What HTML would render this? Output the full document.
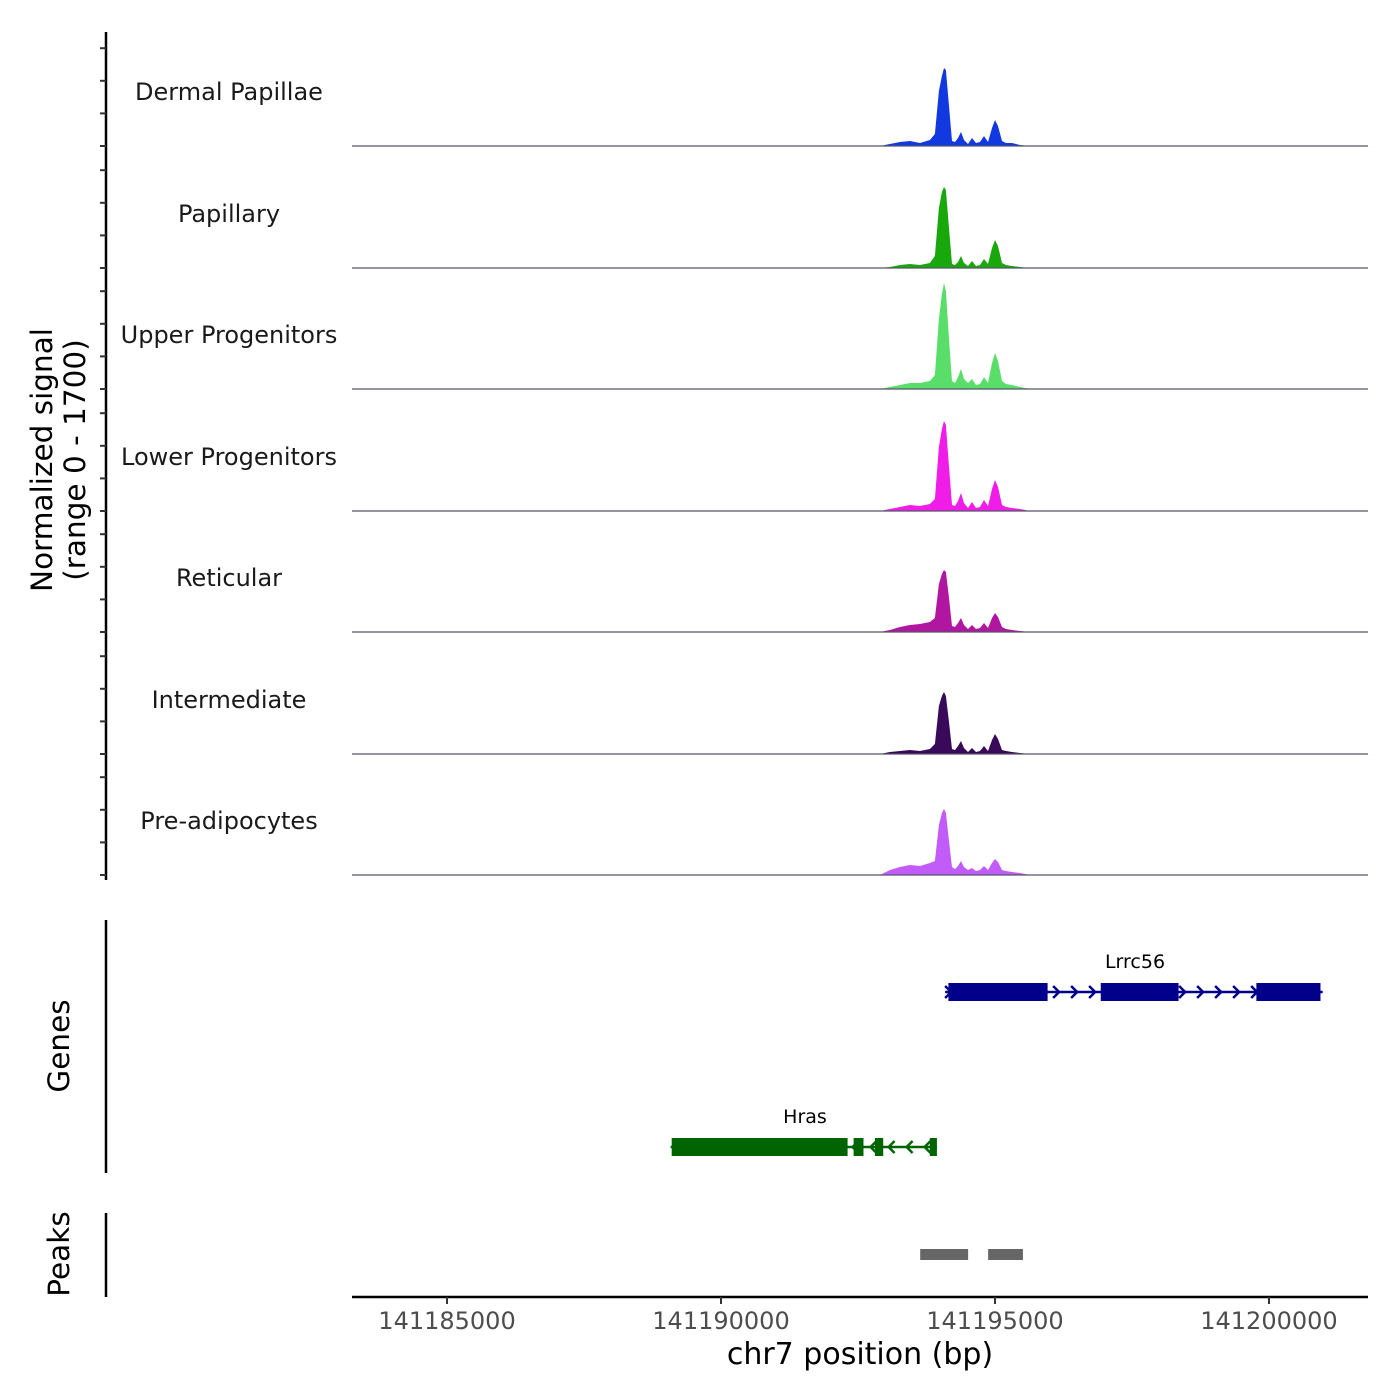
<!DOCTYPE html>
<html><head><meta charset="utf-8"><style>
body{margin:0;background:#fff}
svg{display:block;font-family:"DejaVu Sans","Liberation Sans",sans-serif}
</style></head><body>
<svg id="c" width="1400" height="1400" viewBox="0 0 1400 1400"></svg>
<script>
const trackNames=["Dermal Papillae","Papillary","Upper Progenitors","Lower Progenitors","Reticular","Intermediate","Pre-adipocytes"];
const trackColors=["#1238e0","#18a80c","#5ade6a","#f01ce8","#b0169f","#3a0a5a","#c25cf8"];
const positions=[141192901,141193083,141193266,141193448,141193631,141193813,141193904,141193977,141194032,141194069,141194105,141194160,141194215,141194270,141194324,141194379,141194434,141194507,141194580,141194653,141194726,141194799,141194872,141194945,141195000,141195054,141195127,141195200,141195310,141195456,141195638];
const sigDP=[0,2,4,5,3,6,12,55,70,78,76,40,5,4,8,14,6,2,8,3,4,10,4,18,26,20,5,3,3,1,0];
const sigPap=[0,1,3,4,3,5,12,60,76,81,78,40,4,3,6,12,5,2,7,2,3,9,4,20,28,22,5,3,2,1,0];
const sigUpper=[0,2,4,6,6,8,14,70,95,106,98,50,8,6,12,20,10,6,10,4,5,12,6,26,36,28,8,5,4,2,0];
const sigLower=[0,2,4,6,5,7,12,64,82,90,86,44,6,5,10,18,8,3,9,3,4,11,5,22,31,24,6,4,3,2,0];
const sigRet=[0,2,5,7,8,10,14,48,58,62,60,34,6,5,9,14,7,3,7,3,4,9,4,14,19,15,5,3,2,1,0];
const sigInt=[0,2,3,4,3,5,10,48,58,62,58,32,5,4,8,13,6,2,6,2,3,8,3,14,20,15,4,3,2,1,0];
const sigPre=[0,5,8,10,9,12,14,50,62,66,62,34,8,6,9,14,8,5,7,4,5,9,5,12,16,13,5,4,3,2,0];
const signals=[sigDP,sigPap,sigUpper,sigLower,sigRet,sigInt,sigPre];
const xTicks=[141185000,141190000,141195000,141200000];
const peakStarts=[141193635,141194875];
const peakEnds=[141194510,141195510];
const genes=[
 {name:"Lrrc56",color:"#00008b",start:141194090,end:141200980,strand:1,row:0,exons:[[141194150,141195960],[141196930,141198350],[141199770,141200940]]},
 {name:"Hras",color:"#006400",start:141189080,end:141193940,strand:-1,row:1,exons:[[141189100,141192310],[141192420,141192600],[141192810,141192960],[141193810,141193940]]}
];
const NS="http://www.w3.org/2000/svg";
const svg=document.getElementById('c');
function mk(t,a,p){const e=document.createElementNS(NS,t);for(const k in a)e.setAttribute(k,a[k]);(p||svg).appendChild(e);return e;}
const X0=352,X1=1368,B0=141183266,B1=141201807;
const sx=v=>X0+(v-B0)/(B1-B0)*(X1-X0);
const baselines=[146,268,389,511,632,754,875];
const sy=(v,i)=>baselines[i]-v;
let ax=mk('line',{x1:106,y1:32,x2:106,y2:880,stroke:'#000','stroke-width':2.5});

baselines.forEach((b,i)=>{for(let k=0;k<4;k++){let t=mk('line',{x1:100,x2:106,y1:b-k*32.6,y2:b-k*32.6,stroke:'#333','stroke-width':2});
}});
let yt=mk('text',{transform:'translate(52,460) rotate(-90)','text-anchor':'middle','font-size':29.5,fill:'#000'});

mk('tspan',{x:0,dy:0},yt).textContent='Normalized signal';
mk('tspan',{x:0,dy:33},yt).textContent='(range 0 - 1700)';
signals.forEach((s,i)=>{
 const b=baselines[i];
 let d=`M${X0},${b} L${sx(positions[0])},${b}`;
 s.forEach((v,j)=>{d+=` L${sx(positions[j]).toFixed(1)},${sy(v,i).toFixed(1)}`;});
 d+=` L${X1},${b} Z`;
 let p=mk('path',{d:d,fill:trackColors[i]});
 
 let l=mk('line',{x1:X0,x2:X1,y1:b,y2:b,stroke:'#55556a','stroke-width':1.2});
 
 let t=mk('text',{x:229,y:b-46,'text-anchor':'middle','font-size':24,fill:'#1a1a1a'});
 t.textContent=trackNames[i];
 
});
let ga=mk('line',{x1:106,y1:920,x2:106,y2:1173,stroke:'#000','stroke-width':2.5});

let gt=mk('text',{transform:'translate(69,1046) rotate(-90)','text-anchor':'middle','font-size':29.5});gt.textContent='Genes';

genes.forEach(g=>{
 const y=g.row===0?992:1147;
 const grp=mk('g',{});
 
 mk('line',{x1:sx(g.start),x2:sx(g.end),y1:y,y2:y,stroke:g.color,'stroke-width':2.5},grp);
 for(let xa=sx(g.start)+4;xa<sx(g.end);xa+=18){
  const dir=g.strand;
  mk('polyline',{points:`${xa-4*dir},${y-6} ${xa+2*dir},${y} ${xa-4*dir},${y+6}`,fill:'none',stroke:g.color,'stroke-width':2.5},grp);
 }
 g.exons.forEach(e=>{mk('rect',{x:sx(e[0]),y:y-9,width:sx(e[1])-sx(e[0]),height:18,fill:g.color},grp);});
 const t=mk('text',{x:g.row===0?1135:805,y:y-24,'text-anchor':'middle','font-size':19,fill:'#000'},grp);t.textContent=g.name;
});
let pa=mk('line',{x1:106,y1:1213,x2:106,y2:1297,stroke:'#000','stroke-width':2.5});

let pt=mk('text',{transform:'translate(69,1254) rotate(-90)','text-anchor':'middle','font-size':29.5});pt.textContent='Peaks';

peakStarts.forEach((s,i)=>{let r=mk('rect',{x:sx(s),y:1249,width:sx(peakEnds[i])-sx(s),height:11,fill:'#666'});
});
let xa=mk('line',{x1:X0,x2:X1,y1:1297,y2:1297,stroke:'#000','stroke-width':2.5});

xTicks.forEach(v=>{let t=mk('line',{x1:sx(v),x2:sx(v),y1:1297,y2:1304,stroke:'#333','stroke-width':2});

let l=mk('text',{x:sx(v),y:1329,'text-anchor':'middle','font-size':24,fill:'#4d4d4d'});l.textContent=v;
});
let xt=mk('text',{x:860,y:1364,'text-anchor':'middle','font-size':30});xt.textContent='chr7 position (bp)';

</script></body></html>
